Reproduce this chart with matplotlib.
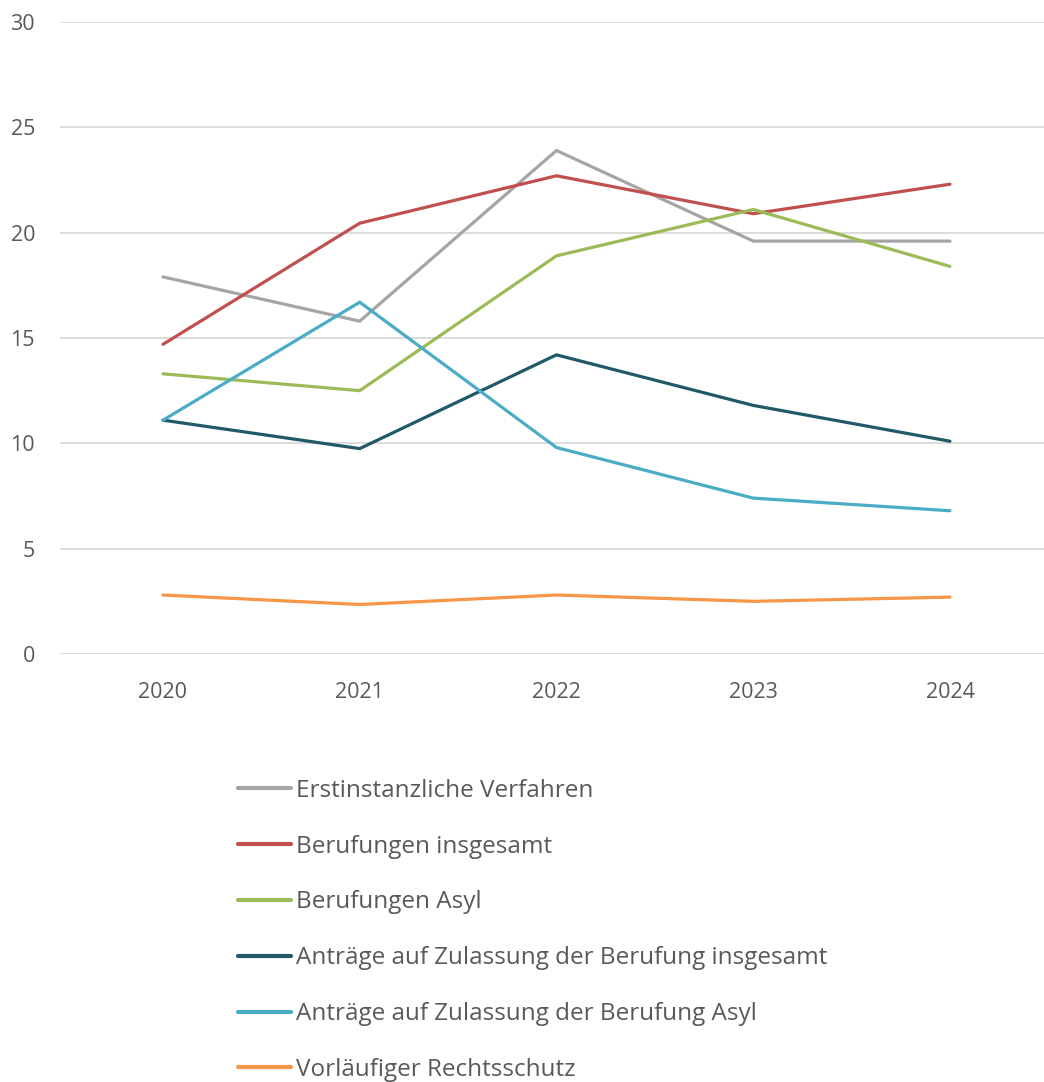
import matplotlib.pyplot as plt

plt.rcParams['font.family'] = ['Open Sans', 'DejaVu Sans']

years = ["2020", "2021", "2022", "2023", "2024"]
erstinstanz = [17.9, 15.8, 23.9, 19.6, 19.6]
berufungen_ges = [14.7, 20.45, 22.7, 20.9, 22.3]
berufungen_asyl = [13.3, 12.5, 18.9, 21.1, 18.4]
zulassung_ges = [11.1, 9.75, 14.2, 11.8, 10.1]
zulassung_asyl = [11.1, 16.7, 9.8, 7.4, 6.8]
rechtsschutz = [2.8, 2.35, 2.8, 2.5, 2.7]

labels = ["Erstinstanzliche Verfahren", "Berufungen insgesamt", "Berufungen Asyl",
          "Anträge auf Zulassung der Berufung insgesamt",
          "Anträge auf Zulassung der Berufung Asyl", "Vorläufiger Rechtsschutz"]
colors = ["#A5A5A5", "#C0504D", "#9BBB59", "#215968", "#4BACC6", "#F79646"]
series = [erstinstanz, berufungen_ges, berufungen_asyl, zulassung_ges, zulassung_asyl, rechtsschutz]

text_col = "#595959"

fig = plt.figure(figsize=(10.44, 10.82), dpi=100)
ax = fig.add_axes([60 / 1044, (1082 - 654) / 1082, 984 / 1044, 632 / 1082])

x = list(range(len(years)))
for vals, col, lab in zip(series, colors, labels):
    ax.plot(x, vals, color=col, lw=2.3, label=lab, solid_capstyle='round', solid_joinstyle='miter', zorder=3)

ax.set_xlim(-0.5235, 4.478)
ax.set_ylim(0, 30)
ax.set_yticks([0, 5, 10, 15, 20, 25, 30])
ax.set_xticks(x)
ax.set_xticklabels(years)
ax.yaxis.grid(True, color="#D9D9D9", lw=1.3)
ax.set_axisbelow(True)
for s in ax.spines.values():
    s.set_visible(False)
ax.tick_params(axis='both', length=0, labelsize=15.5, colors=text_col)
ax.tick_params(axis='y', pad=18)
ax.tick_params(axis='x', pad=20)
for t in ax.get_yticklabels():
    t.set_clip_on(False)

leg = fig.legend(loc='upper left', bbox_to_anchor=(228 / 1044, 1 - 769 / 1082),
                 frameon=False, fontsize=17.5, handlelength=2.2, handletextpad=0.2,
                 labelspacing=1.31, borderaxespad=0)
for t in leg.get_texts():
    t.set_color(text_col)
for h in leg.get_lines():
    h.set_linewidth(3)

fig.savefig("out.png", dpi=100)
